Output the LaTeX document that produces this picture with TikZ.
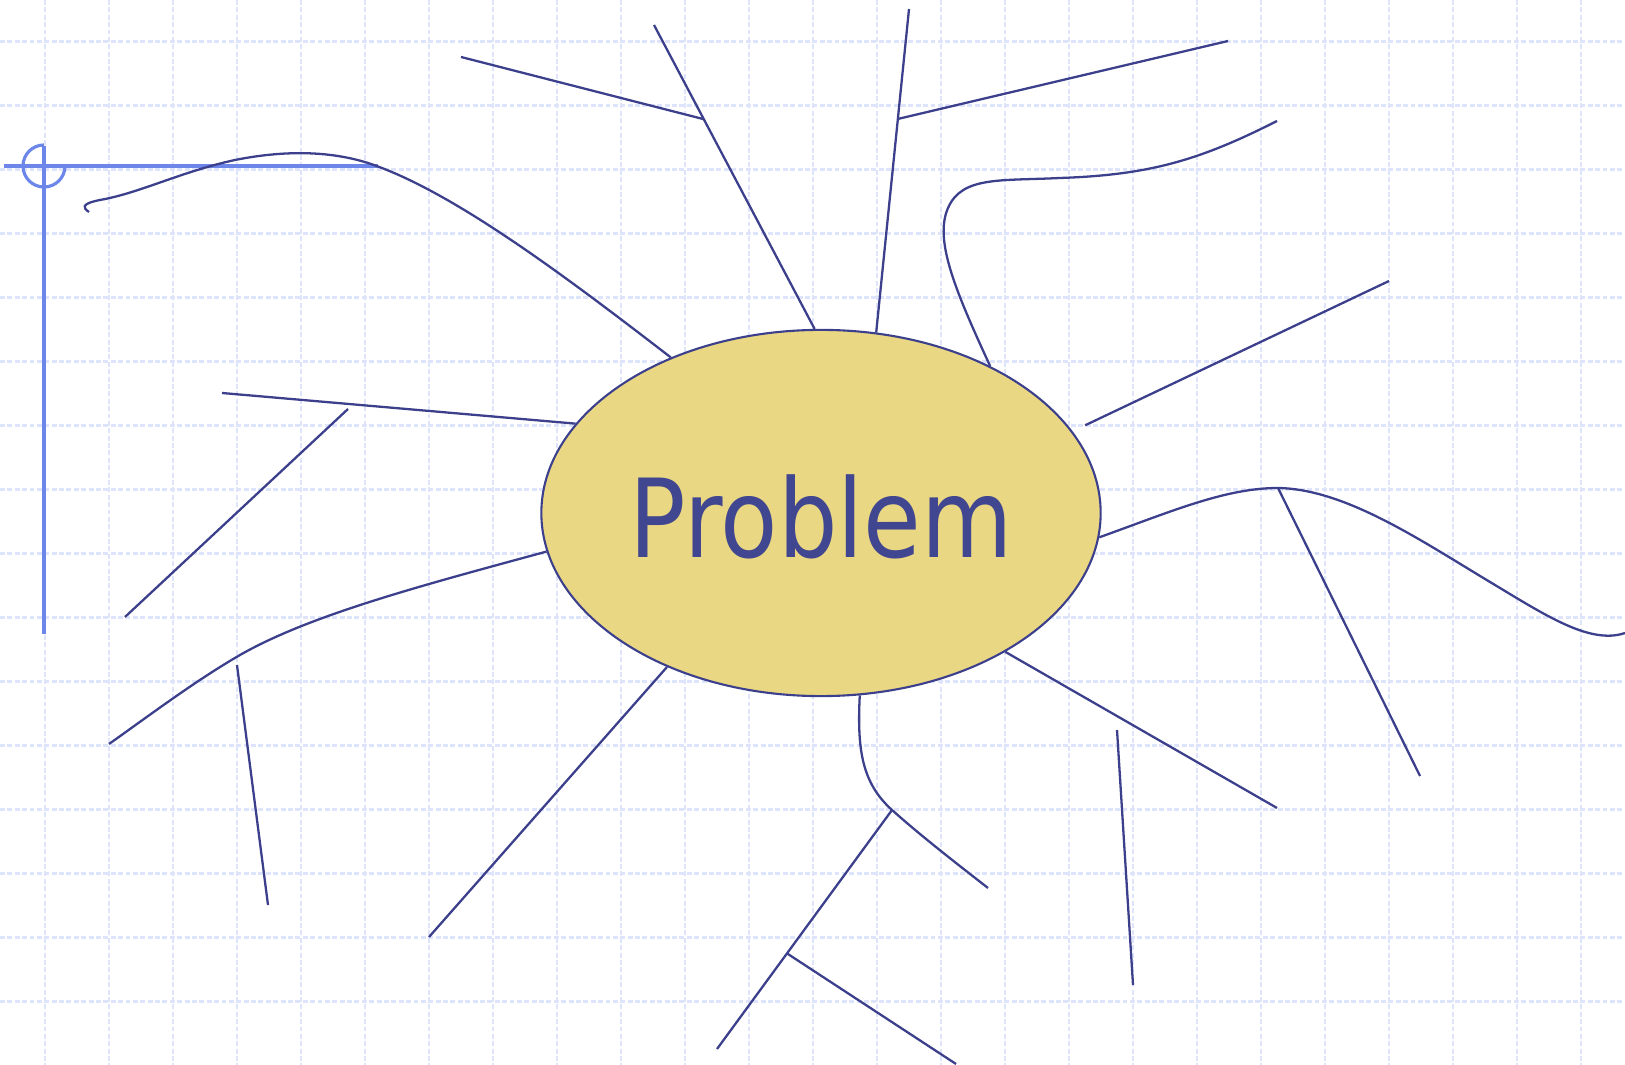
\documentclass[tikz,border=0pt]{standalone}
\usepackage{fontspec}
\newfontfamily\probfont[FakeStretch=0.86]{DejaVu Sans}
\usetikzlibrary{shapes.geometric,calc}
\definecolor{ink}{RGB}{60,64,140}
\definecolor{probtext}{RGB}{64,70,143}
\definecolor{probfill}{RGB}{234,215,131}
\definecolor{gridblue}{RGB}{222,228,251}
\definecolor{guideblue}{RGB}{108,134,234}

\begin{document}
\begin{tikzpicture}[x=.01cm,y=-.01cm,
  branch/.style={draw=ink,line width=.65pt},
  gridline/.style={gridblue,line width=.65pt,dash pattern=on 1.4pt off .7pt},
  guide/.style={guideblue,line width=.9pt}]
\useasboundingbox (0,0) rectangle (1625,1065);
% paper grid
\foreach \i in {0,...,24}{\draw[gridline] ({45+64*\i},0)--({45+64*\i},1065);}
\foreach \i in {0,...,15}{\draw[gridline] (0,{41.5+64*\i})--(1625,{41.5+64*\i});}
% margin guide
\draw[guide] (4,166)--(378,166) (44,146)--(44,634);
\draw[guide] (44,145) arc[start angle=90,end angle=360,radius=.21cm];
% centre
\node[ellipse,draw=ink,line width=.6pt,fill=probfill,minimum width=5.59cm,minimum height=3.66cm,
  inner sep=0pt,text height=.9cm,text=probtext,font=\probfont\fontsize{31}{37}\selectfont] (prob) at (821,513) {Problem};
% free ends
\coordinate (n1) at (89,212);
\coordinate (n2) at (654,25);   \coordinate (n2a) at (461,57);
\coordinate (n3) at (909,9);    \coordinate (n3a) at (1228,41);
\coordinate (n6) at (1277,121);
\coordinate (n7) at (1389,281);
\coordinate (k8) at (1278,488); \coordinate (n8) at (1625,633);
\coordinate (n9) at (1420,776);
\coordinate (n10) at (1277,808);
\coordinate (n11a) at (1117,730); \coordinate (n11b) at (1133,985);
\coordinate (k12) at (892,810); \coordinate (n12) at (988,888);
\coordinate (n13) at (717,1049); \coordinate (n14) at (956,1064);
\coordinate (n15) at (429,937);
\coordinate (n16) at (109,744);
\coordinate (n17a) at (237,665); \coordinate (n17b) at (268,905);
\coordinate (n18) at (222,393);
\coordinate (n19a) at (348,409); \coordinate (n19b) at (125,617);
\coordinate (j2) at ($(prob.92)!.69!(n2)$);
\coordinate (j3) at ($(prob.73)!.66!(n3)$);
\coordinate (j13) at ($(k12)!.6!(n13)$);
% branches
\draw[branch] (prob.134) .. controls (560,272) and (450,190) .. (368,163)
  .. controls (330,151) and (285,150) .. (235,160) .. controls (180,172) and (140,193) .. (100,200)
  .. controls (80,204) and (83,208) .. (n1);
\draw[branch] (prob.92)--(n2);
\draw[branch] (n2a)--(j2);
\draw[branch] (prob.73)--(n3);
\draw[branch] (j3)--(n3a);
\draw[branch] (prob.41) .. controls (955,290) and (934,240) .. (948,208)
  .. controls (962,176) and (1000,181) .. (1060,178) .. controls (1150,175) and (1200,160) .. (n6);
\draw[branch,shorten <=.14cm] (prob.18)--(n7);
\draw[branch] (prob.-5) .. controls (1170,512) and (1225,488) .. (k8)
  .. controls (1345,489) and (1420,540) .. (1490,582) .. controls (1545,615) and (1590,645) .. (n8);
\draw[branch] (k8)--(n9);
\draw[branch] (prob.-37)--(n10);
\draw[branch] (n11a)--(n11b);
\draw[branch] (prob.-78) .. controls (857,750) and (862,783) .. (k12)
  .. controls (920,835) and (952,860) .. (n12);
\draw[branch] (k12)--(n13);
\draw[branch] (j13)--(n14);
\draw[branch] (prob.225)--(n15);
\draw[branch] (prob.188) .. controls (420,586) and (310,615) .. (240,655)
  .. controls (195,681) and (150,715) .. (n16);
\draw[branch] (n17a)--(n17b);
\draw[branch] (prob.160.5)--(n18);
\draw[branch] (n19a)--(n19b);
\end{tikzpicture}
\end{document}
